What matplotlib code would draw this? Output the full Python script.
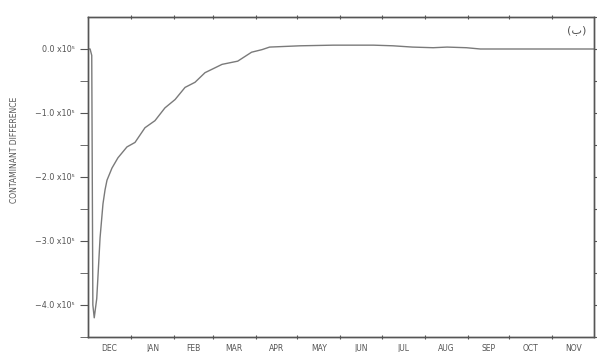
import numpy as np
from matplotlib import pyplot as plt
from matplotlib.ticker import FixedLocator, NullFormatter, FixedFormatter

# days since 1 Dec, values in units of 1e5
days = [0, 1.5, 2.7, 3.5, 4.5, 6.3, 7.4, 8.7, 10.8, 12.3, 13.7, 17.3, 21.6, 28.1,
        33.9, 41.1, 48.3, 55.5, 62.8, 70.0, 77.2, 84.4, 96.7, 108, 118, 125.5,
        131, 153, 177, 206, 220, 234, 249, 259, 273, 283, 300, 330, 365]
diff = [0, 0, -0.1, -4.0, -4.2, -3.9, -3.47, -2.95, -2.42, -2.2, -2.05, -1.86,
        -1.70, -1.53, -1.46, -1.23, -1.12, -0.92, -0.79, -0.60, -0.52, -0.37,
        -0.24, -0.19, -0.05, -0.01, 0.03, 0.05, 0.06, 0.06, 0.05, 0.03, 0.02,
        0.03, 0.02, 0.0, 0.0, 0.0, 0.0]

months = ["DEC", "JAN", "FEB", "MAR", "APR", "MAY", "JUN", "JUL", "AUG", "SEP", "OCT", "NOV"]
month_len = [31, 31, 28, 31, 30, 31, 30, 31, 31, 30, 31, 30]
yticks = [0.0, -1.0, -2.0, -3.0, -4.0]

edges = np.concatenate([[0], np.cumsum(month_len)])
mids = (edges[:-1] + edges[1:]) / 2

fig = plt.figure(figsize=(5.97, 3.52), dpi=100)
ax = fig.add_axes([88/597, 1-337/352, (594-88)/597, (337-17)/352])

ax.plot(days, diff, color="#7a7a7a", lw=1.0)

ax.set_xlim(0, 365)
ax.set_ylim(-4.5, 0.5)

ax.xaxis.set_major_locator(FixedLocator(edges[1:-1]))
ax.xaxis.set_major_formatter(NullFormatter())
ax.xaxis.set_minor_locator(FixedLocator(mids))
ax.xaxis.set_minor_formatter(FixedFormatter(months))
ax.tick_params(axis="x", which="minor", length=0, labelsize=5.5, labelcolor="#555555", pad=5)
ax.tick_params(axis="x", which="major", direction="inout", length=3, top=True, color="#555555")

ax.set_yticks(yticks)
ax.set_yticklabels(["%.1f x10⁵" % v if v == 0 else "\u2212%.1f x10⁵" % abs(v) for v in yticks])
ax.set_yticks(np.arange(-4.5, 0.5, 1.0), minor=True)
ax.tick_params(axis="y", which="both", direction="out", length=5.5, color="#555555",
               labelsize=5.8, labelcolor="#555555", pad=4)

# short ticks on the right side
ax2 = ax.twinx()
ax2.set_ylim(ax.get_ylim())
ax2.set_yticks(np.arange(-4.5, 0.6, 0.5))
ax2.set_yticklabels([])
ax2.tick_params(axis="y", direction="out", length=2, color="#555555")

for a in (ax, ax2):
    for s in a.spines.values():
        s.set_color("#555555")
        s.set_linewidth(1.0)

fig.text(15/597, 1-150/352, "CONTAMINANT DIFFERENCE", rotation=90, fontsize=5.5,
         color="#555555", ha="center", va="center")
ax.text(0.985, 0.975, "(ب)", transform=ax.transAxes, ha="right", va="top",
        fontsize=8, color="#555555")

fig.savefig("out.png", dpi=100)
